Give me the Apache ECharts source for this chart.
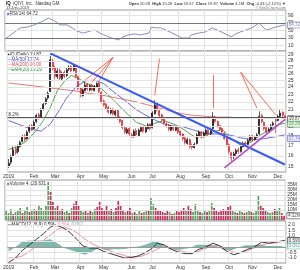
<!DOCTYPE html>
<html><head><meta charset="utf-8">
<script src="https://cdn.jsdelivr.net/npm/echarts@6/dist/echarts.min.js"></script>
<style>html,body{margin:0;padding:0;background:#fff}#c{width:300px;height:270px}</style>
</head><body><div id="c"></div>
<script>
// ---- x axis: month labels at candle indexes
const monthLabels = ['2019','Feb','Mar','Apr','May','Jun','Jul','Aug','Sep','Oct','Nov','Dec'];
const monthStarts = [0,11,20,31,41,53,62,74,85,95,105,116];

// ---- price candles (each candle ~2 trading days)
const opens = [
15.0,15.4,16.0,16.7,16.4,16.9,17.4,18.0,17.7,18.5,
19.1,18.8,19.6,20.4,20.1,21.1,21.8,22.5,23.4,28.0,
26.9,25.5,26.5,25.2,26.2,25.7,26.7,27.1,26.5,27.2,
25.5,23.9,22.8,23.5,24.4,23.6,24.3,23.5,24.0,24.6,
23.3,22.1,21.7,21.3,20.6,21.1,20.4,20.9,20.1,19.7,
18.9,18.3,18.8,18.1,17.9,18.6,18.0,18.5,19.0,18.4,
18.8,19.3,18.9,20.5,21.7,20.9,20.4,19.9,19.3,19.2,
18.6,19.0,18.6,18.9,18.5,18.2,17.8,17.2,17.6,17.0,
16.8,17.2,18.0,18.4,17.9,18.2,18.6,18.2,18.8,20.0,
19.6,19.1,18.8,18.3,17.8,17.1,16.3,15.9,16.2,16.6,
16.4,16.9,17.3,17.1,17.5,18.0,17.6,17.9,18.2,20.3,
19.5,18.9,18.4,18.7,19.2,19.8,19.7,20.2,20.7,20.28];
const closes = [
15.3,15.9,16.6,16.3,16.9,17.3,17.9,17.6,18.4,19.0,
18.7,19.5,20.3,20.0,21.0,21.7,22.4,23.1,28.2,26.8,
25.6,26.4,25.3,26.0,25.6,26.6,27.0,26.4,27.3,25.6,
23.8,22.9,23.6,24.3,23.7,24.2,23.6,24.1,24.5,23.4,
22.0,21.6,21.2,20.7,21.0,20.5,20.8,20.0,19.6,18.9,
18.4,18.7,18.2,17.9,18.5,18.1,18.6,18.9,18.5,18.9,
19.2,18.8,20.6,21.6,21.0,20.3,19.8,19.4,19.1,18.7,
19.0,18.7,18.9,18.4,18.1,17.7,17.3,17.6,16.9,16.8,
17.1,18.1,18.4,17.9,18.3,18.6,18.2,18.7,20.1,19.6,
19.0,18.7,18.4,17.7,17.0,16.4,15.8,16.2,16.5,16.4,
16.9,17.2,17.1,17.5,17.9,17.6,17.9,18.1,20.2,19.6,
18.8,18.4,18.7,19.1,19.4,19.7,20.2,20.6,20.3,19.87];
const lows = [
14.9,15.2,15.9,16.1,16.2,16.8,17.3,17.4,17.6,18.3,
18.5,18.7,19.4,19.8,20.0,20.9,21.6,22.3,23.3,26.5,
25.2,25.2,25.0,24.9,25.3,25.5,26.4,26.2,26.3,25.3,
23.6,22.6,22.7,23.4,23.5,23.4,23.4,23.4,23.9,23.2,
21.8,21.4,21.0,20.5,20.4,20.3,20.2,19.8,19.4,18.7,
18.2,18.2,18.0,17.8,17.8,17.9,17.9,18.4,18.3,18.3,
18.7,18.6,18.8,20.4,20.8,20.1,19.6,19.2,18.9,18.5,
18.5,18.5,18.5,18.2,17.9,17.5,17.1,17.1,16.7,16.6,
16.7,17.1,17.9,17.7,17.8,18.1,18.0,18.1,18.7,19.4,
18.9,18.5,18.2,17.6,16.9,16.2,15.5,15.7,16.0,16.2,
16.3,16.8,16.9,17.0,17.4,17.4,17.5,17.8,18.1,19.4,
18.6,18.2,18.3,18.6,19.0,18.3,19.6,20.1,20.1,19.67];
const highs = [
15.7,16.1,16.9,16.9,17.1,17.5,18.1,18.2,18.6,19.2,
19.3,19.7,20.5,20.6,21.2,21.9,22.6,23.4,29.2,28.4,
27.2,26.8,26.8,26.3,26.5,26.9,27.3,27.3,27.45,27.3,
25.7,24.0,23.8,24.7,24.6,24.4,24.5,24.3,24.7,24.7,
23.4,22.3,21.9,21.5,21.2,21.2,21.0,21.0,20.2,19.8,
19.0,18.9,18.9,18.3,18.7,18.8,18.8,19.1,19.1,19.1,
19.4,19.4,20.8,22.2,21.9,21.1,20.5,20.0,19.5,19.3,
19.2,19.1,19.1,19.0,18.6,18.3,17.9,17.8,17.7,17.2,
17.3,18.3,18.6,18.5,18.5,18.8,18.7,18.9,20.7,20.3,
19.7,19.2,18.9,18.4,17.9,17.2,16.4,16.4,16.7,16.8,
17.1,17.4,17.4,17.7,18.1,18.1,18.0,18.3,20.8,20.5,
19.6,19.0,18.9,19.3,19.6,19.9,20.4,21.0,20.8,20.28];
const volumesM = [
9,7,11,6,8,10,12,7,9,13,
8,10,11,9,14,12,10,15,38,28,
18,12,14,9,11,8,10,7,12,16,
20,14,9,8,10,7,9,8,11,13,
18,12,10,14,9,11,8,12,20,15,
10,8,9,12,7,8,6,9,7,8,
10,9,22,16,12,10,9,8,7,9,
8,6,7,9,8,10,12,9,14,11,
8,16,10,8,7,9,8,10,17,12,
9,8,9,11,10,13,14,10,8,7,
9,8,7,8,9,8,7,10,24,14,
12,9,8,7,8,11,9,12,7,4.1];

// ---- overlays (index, value)
const ma200Idx = [0,5,10,15,20,25,30,35,40,45,50,55,60,65,70,75,80,85,90,95,100,105,110,115,119];
const ma200Val = [24.6,24.4,24.2,24.0,23.8,23.6,23.4,23.1,22.9,22.6,22.3,22.0,21.6,21.2,20.8,20.5,20.3,20.2,20.1,20.1,20.0,20.0,20.0,20.0,20.0];
const ma50Idx = [0,5,10,14,18,22,25,29,33,37,41,45,50,55,60,65,70,75,80,85,90,95,100,105,110,115,119];
const ma50Val = [19.7,19.2,18.7,18.5,19.3,21.0,22.5,24.0,24.9,25.0,24.5,23.4,22.2,21.0,20.2,19.5,19.1,19.0,18.6,18.2,18.2,18.1,17.8,17.6,17.7,17.9,18.1];
const ema20Idx = [0,4,8,12,15,18,21,24,27,30,33,36,40,45,50,55,60,63,67,72,76,80,84,88,92,96,100,104,108,112,116,119];
const ema20Val = [16.6,16.9,17.5,18.6,19.7,21.3,23.5,24.8,25.7,25.3,24.6,24.2,23.8,22.3,20.8,19.5,19.0,19.4,19.7,19.2,18.6,17.9,17.9,18.4,18.7,17.7,17.0,17.3,18.0,18.6,19.2,19.4];
const downTrend = [[18,29.3],[119,15.2]];
const upTrend = [[93,14.9],[119,19.8]];
const fibLevel = 20.1;
const arrows = [
  [[45,28.6],[33,25.0]], [[45,28.6],[35.5,24.7]], [[45,28.6],[38.5,24.9]],
  [[65,28.4],[63,22.9]],
  [[88.4,25.8],[88,21.2]],
  [[99.6,26.2],[107,21.2]], [[99.6,26.2],[115,20.4]]
];

// ---- RSI and MACD
const rsiIdx = [0,3,6,9,12,15,18,20,22,23,26,29,30,33,36,38,40,45,48,50,52,55,57,61,62,64,66,70,75,78,79,82,85,88,92,96,98,100,105,108,111,115,119];
const rsiVal = [30,43,57,59,65,73,83,78,70,65,65,54,49,43,49,51,43,30,25,33,38,41,38,43,59,57,57,46,30,30,38,43,46,57,46,33,41,46,57,70,51,59,65];
const macdIdx = [0,3,6,9,12,15,18,20,23,26,29,32,35,38,41,44,47,50,53,56,59,62,64,67,70,73,76,79,82,85,88,91,94,97,100,103,106,109,112,115,119];
const macdVal = [-1.4,-1.0,-0.3,0.2,0.7,1.2,1.8,2.0,1.8,1.4,0.8,0.1,-0.1,-0.1,-0.4,-0.6,-0.8,-1.0,-0.95,-0.8,-0.5,-0.1,0.35,0.2,-0.2,-0.45,-0.6,-0.6,-0.2,0.0,0.35,0.1,-0.4,-0.7,-0.5,-0.2,0.0,0.45,0.35,0.45,0.6];
const sigIdx = [0,3,6,9,12,15,18,21,24,27,30,33,36,39,42,45,48,51,54,57,60,63,66,69,72,75,78,81,84,87,90,93,96,99,102,105,108,111,114,117,119];
const sigVal = [-1.0,-1.0,-0.8,-0.4,0.1,0.6,1.1,1.6,1.8,1.6,1.2,0.7,0.3,0.0,-0.2,-0.45,-0.65,-0.85,-0.9,-0.85,-0.6,-0.3,0.0,0.0,-0.2,-0.4,-0.55,-0.45,-0.2,0.05,0.15,-0.05,-0.4,-0.55,-0.4,-0.15,0.1,0.3,0.35,0.45,0.5];
const histVal = [-0.4,0.0,0.5,0.6,0.6,0.6,0.7,0.35,-0.1,-0.3,-0.5,-0.7,-0.4,-0.1,-0.3,-0.2,-0.2,-0.15,0.0,0.1,0.3,0.55,0.25,-0.15,-0.25,-0.2,-0.1,0.2,0.2,0.2,0.05,-0.3,-0.3,-0.05,0.15,0.15,0.25,0.1,0.1,0.1,0.1];

// ---- tick labels
const rsiTicks = [10,30,50,70,90];
const priceTicks = [15,16,17,18,19,20,21,22,23,24,25,26,27,28,29];
const volTicks = [5,10,15,20,25,30,35];
const macdTicks = [-1.0,-0.5,0,0.5,1.0,1.5,2.0];

// ---- build
const F = 'Liberation Sans, Arial, sans-serif';
const gridColor = '#e3e3e3';
const N = closes.length;
const last = N - 1;
const cats = closes.map((_, i) => String(i));
const pairs = (ix, vs) => ix.map((x, k) => [x, vs[k]]);
const isMonth = i => monthStarts.indexOf(i) >= 0;

function xAx(g, show) {
  return {type:'category', gridIndex:g, data:cats, boundaryGap:true,
    axisLine:{show:false}, axisTick:{show:false},
    axisLabel:{show:show, interval:(i)=>isMonth(i), formatter:(v,i)=>{const k=monthStarts.indexOf(i);return k>=0?monthLabels[k]:'';},
      fontSize:5, color:'#333', margin:2, fontFamily:F},
    splitLine:{show:true, interval:(i)=>isMonth(i), lineStyle:{color:gridColor, width:1}}};
}
function yAx(g, extra, ticks, fmt) {
  return Object.assign({gridIndex:g, position:'right', scale:false,
    axisLine:{show:false}, axisTick:{show:false}, splitLine:{show:false},
    axisLabel:{customValues:ticks, formatter:fmt, fontSize:5, color:'#333', margin:2, fontFamily:F, showMinLabel:true, showMaxLabel:true}}, extra);
}
function hLines(g, ticks) {
  return {type:'line', xAxisIndex:g, yAxisIndex:g, data:[], silent:true, z:0,
    markLine:{silent:true, symbol:'none', label:{show:false}, animation:false,
      lineStyle:{color:gridColor, width:1, type:'solid'}, data:ticks.map(v=>({yAxis:v}))}};
}
function box(g, val, txt, color, bg) {
  return {type:'scatter', xAxisIndex:g, yAxisIndex:g, data:[[last, val]], symbolSize:0, z:10, silent:true,
    label:{show:true, position:'right', distance:3, formatter:txt, fontSize:4.5, fontFamily:F, color:color,
      backgroundColor:bg, borderColor:color, borderWidth:0.6, padding:[0.5,1,0,1]}};
}
function lineS(g, data, color, w, z) {
  return {type:'line', xAxisIndex:g, yAxisIndex:g, data:data, symbol:'none', silent:true, connectNulls:true, z:z||3,
    lineStyle:{color:color, width:w}};
}

const candleData = closes.map((c,i)=>[opens[i], c, lows[i], highs[i]]);
const volData = volumesM.map((v,i)=>({value:v, itemStyle:{color: closes[i] >= opens[i] ? '#5f9e5f' : '#c0305a'}}));

const option = {
  animation:false,
  backgroundColor:'#fff',
  grid:[
    {left:5, right:14, top:10, height:41, show:true, borderColor:'#9a9a9a', borderWidth:1, backgroundColor:'#fff'},
    {left:5, right:14, top:51, height:121, show:true, borderColor:'#9a9a9a', borderWidth:1, backgroundColor:'#fff'},
    {left:5, right:14, top:180, height:40, show:true, borderColor:'#9a9a9a', borderWidth:1, backgroundColor:'#fff'},
    {left:5, right:14, top:221, height:42, show:true, borderColor:'#9a9a9a', borderWidth:1, backgroundColor:'#fff'}
  ],
  xAxis:[xAx(0,false), xAx(1,true), xAx(2,false), xAx(3,true)],
  yAxis:[
    yAx(0, {type:'value', min:-4.67, max:104.67}, rsiTicks, v=>String(v)),
    yAx(1, {type:'log', logBase:10, min:14.54, max:29.7}, priceTicks, v=>String(Math.round(v))),
    yAx(2, {type:'value', min:0, max:40}, volTicks, v=>v+'M'),
    yAx(3, {type:'value', min:-1.45, max:2.36}, macdTicks, v=>Number(v).toFixed(1))
  ],
  series:[
    hLines(0, rsiTicks), hLines(1, priceTicks), hLines(2, volTicks), hLines(3, macdTicks),
    // RSI
    {type:'line', xAxisIndex:0, yAxisIndex:0, data:[], silent:true, z:1,
      markLine:{silent:true, symbol:'none', label:{show:false}, lineStyle:{color:'#777', width:1, type:'solid'}, data:[{yAxis:70},{yAxis:30}]}},
    lineS(0, pairs(rsiIdx, rsiVal), '#7b7fc4', 0.9, 4),
    // price overlays
    lineS(1, pairs(ma200Idx, ma200Val), '#e36b6b', 0.9, 3),
    lineS(1, pairs(ma50Idx, ma50Val), '#5a5ad6', 0.9, 3),
    lineS(1, pairs(ema20Idx, ema20Val), '#3d9c3d', 0.9, 3),
    {type:'line', xAxisIndex:1, yAxisIndex:1, data:[], silent:true, z:2,
      markLine:{silent:true, symbol:'none', label:{show:false}, lineStyle:{color:'#555', width:1, type:'solid'}, data:[{yAxis:fibLevel}]}},
    {type:'candlestick', xAxisIndex:1, yAxisIndex:1, data:candleData, barWidth:1.5, z:4, silent:true,
      itemStyle:{color:'#111', color0:'#e3262e', borderColor:'#111', borderColor0:'#e3262e', borderWidth:0.7}},
    lineS(1, downTrend, '#3a5cf0', 2, 5),
    lineS(1, upTrend, '#b84ac8', 1.6, 5),
    {type:'line', xAxisIndex:1, yAxisIndex:1, data:[], silent:true, z:6,
      markLine:{silent:true, symbol:['none','arrow'], symbolSize:[0,4], label:{show:false},
        lineStyle:{color:'#fa5a3c', width:0.9, type:'solid'},
        data:arrows.map(a=>[{coord:a[0]},{coord:a[1]}])}},
    // volume
    {type:'bar', xAxisIndex:2, yAxisIndex:2, data:volData, barWidth:1.7, silent:true, z:3},
    // MACD
    {type:'line', xAxisIndex:3, yAxisIndex:3, data:pairs(sigIdx, histVal), symbol:'none', silent:true, z:2,
      lineStyle:{width:0}, areaStyle:{color:'#6fb3a3', opacity:0.9, origin:0}},
    {type:'line', xAxisIndex:3, yAxisIndex:3, data:[], silent:true, z:1,
      markLine:{silent:true, symbol:'none', label:{show:false}, lineStyle:{color:'#999', width:1, type:'solid'}, data:[{yAxis:0}]}},
    lineS(3, pairs(sigIdx, sigVal), '#e8829e', 0.9, 3),
    lineS(3, pairs(macdIdx, macdVal), '#222', 0.9, 4),
    // value boxes
    box(0, 64.72, '64.72', '#55589a', '#fff'),
    box(1, closes[last], '19.87', '#111', '#fff'),
    box(1, 19.29, '19.29', '#2f8a2f', '#eaf6ea'),
    box(1, 17.74, '17.74', '#4848c8', '#eeeefa'),
    box(2, 4.1, '4.12M', '#333', '#fff'),
    box(3, 0.596, '0.596', '#111', '#fff'),
    box(3, 0.092, '0.092', '#3e9a86', '#fff')
  ],
  graphic:[
    {type:'text', left:6, top:1, style:{text:'{b|IQ}  iQIYI, Inc.  Nasdaq GM', fill:'#333', fontSize:4.5, fontFamily:F,
      rich:{b:{fontWeight:'bold', fontSize:4.5, fontFamily:F, fill:'#111'}}}},
    {type:'text', left:6, top:5.5, style:{text:'13-Dec-2019', fill:'#444', fontSize:4, fontFamily:F}},
    {type:'text', right:14, top:1.5, style:{text:'{b|Open} 20.28  {b|High} 20.28  {b|Low} 19.67  {b|Close} 19.87  {b|Volume} 4.1M  {b|Chg} -0.43 (-2.12%) \u25BC',
      fill:'#333', fontSize:4, fontFamily:F, rich:{b:{fontWeight:'bold', fontSize:4, fontFamily:F}}}},
    {type:'text', right:14, top:6, style:{text:'\u00A9 StockCharts.com', fill:'#777', fontSize:3.5, fontFamily:F}},
    {type:'text', left:7, top:11, style:{text:'{s|\u25A0}RSI(14) 64.72', fill:'#333', fontSize:4.5, fontFamily:F, rich:{s:{fill:'#7b7fc4', fontSize:4.5}}}},
    {type:'text', left:7, top:52.5, style:{text:'{s|\u25A0}IQ (Daily) 19.87', fill:'#222', fontSize:4.5, fontFamily:F, rich:{s:{fill:'#111', fontSize:4.5}}}},
    {type:'text', left:7, top:57.5, style:{text:'{s|\u2014}MA(50) 17.74', fill:'#4848c8', fontSize:4.5, fontFamily:F, rich:{s:{fill:'#5a5ad6', fontSize:4.5}}}},
    {type:'text', left:7, top:62.5, style:{text:'{s|\u2014}MA(200) 20.00', fill:'#d24a4a', fontSize:4.5, fontFamily:F, rich:{s:{fill:'#e36b6b', fontSize:4.5}}}},
    {type:'text', left:7, top:67.5, style:{text:'{s|\u2014}EMA(20) 19.29', fill:'#2f8a2f', fontSize:4.5, fontFamily:F, rich:{s:{fill:'#3d9c3d', fontSize:4.5}}}},
    {type:'text', left:6, top:112, style:{text:'38.2%', fill:'#333', fontSize:4.5, fontFamily:F}},
    {type:'text', left:7, top:181, style:{text:'{s|\u25A0}Volume 4,120,631', fill:'#333', fontSize:4.5, fontFamily:F, rich:{s:{fill:'#5f9e5f', fontSize:4.5}}}},
    {type:'text', left:7, top:222, style:{text:'{k|\u2014}MACD(12,26,9) 0.596, {p|0.504}, {g|0.092}', fill:'#222', fontSize:4.5, fontFamily:F,
      rich:{k:{fill:'#222', fontSize:4.5}, p:{fill:'#e8829e', fontSize:4.5}, g:{fill:'#5aa896', fontSize:4.5}}}}
  ]
};
const chart = echarts.init(document.getElementById('c'), null, {renderer:'canvas', width:300, height:270});
chart.setOption(option);
</script>
</body></html>
